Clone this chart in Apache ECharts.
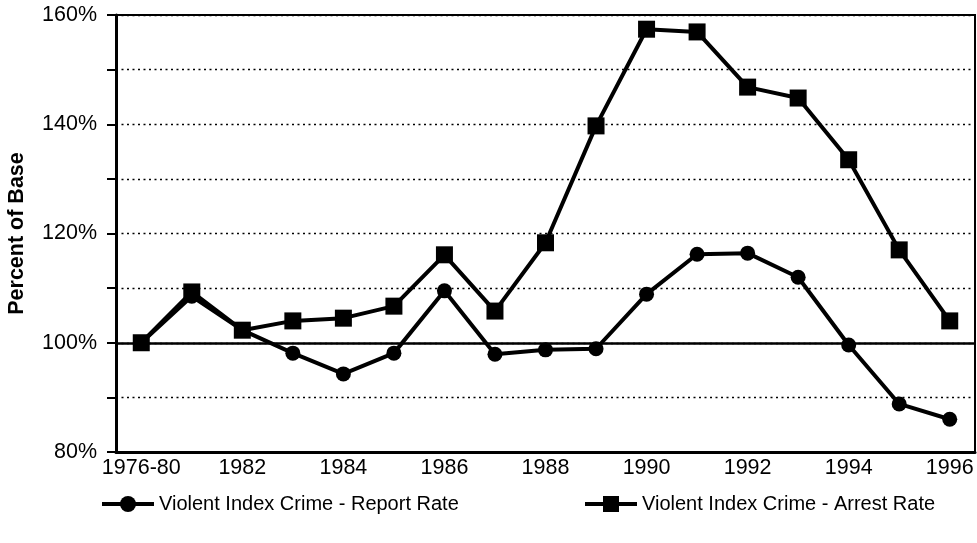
<!DOCTYPE html>
<html>
<head>
<meta charset="utf-8">
<script src="https://cdn.jsdelivr.net/npm/echarts@6/dist/echarts.min.js"></script>
<style>
  html, body { margin: 0; padding: 0; background: #fff; }
  #chart { width: 977px; height: 543px; }
</style>
</head>
<body>
<div id="chart"></div>
<script>
// categories along the x axis
const years = ['1976-80', '1981', '1982', '1983', '1984', '1985', '1986', '1987', '1988',
               '1989', '1990', '1991', '1992', '1993', '1994', '1995', '1996'];

// percent of base
const reportRate = [100, 108.5, 102.3, 98.1, 94.3, 98.1, 109.5, 97.9, 98.7,
                    98.9, 108.9, 116.2, 116.4, 112.0, 99.6, 88.8, 86.0];
const arrestRate = [100, 109.3, 102.3, 104.0, 104.5, 106.7, 116.1, 105.8, 118.3,
                    139.7, 157.4, 156.9, 146.8, 144.8, 133.5, 117.0, 104.0];

const yTicks = [80, 100, 120, 140, 160];

const font = 'Liberation Sans, Arial, sans-serif';

const chart = echarts.init(document.getElementById('chart'));

const legendText = { fontFamily: font, fontSize: 20, color: '#000' };

const chartOptions = {
    animation: false,
    grid: {
        left: 116, right: 2, top: 15, bottom: 91,
        outerBoundsMode: 'none',
        containLabel: false,
        show: true,
        borderColor: '#000',
        borderWidth: 2
    },
    legend: [
        {
            data: ['Violent Index Crime - Report Rate'],
            left: 95, top: 489,
            itemWidth: 52, itemHeight: 20, itemGap: 14,
            lineStyle: { width: 4 },
            textStyle: legendText
        },
        {
            data: ['Violent Index Crime - Arrest Rate'],
            left: 578, top: 489,
            itemWidth: 52, itemHeight: 20,
            lineStyle: { width: 4 },
            textStyle: legendText
        }
    ],
    xAxis: {
        type: 'category',
        data: years,
        boundaryGap: true,
        axisLine: { lineStyle: { color: '#000', width: 3 } },
        axisTick: { alignWithLabel: true, interval: 0, length: 9, lineStyle: { color: '#000', width: 2 } },
        axisLabel: {
            interval: 1,
            color: '#000',
            fontFamily: font,
            fontSize: 21.5,
            margin: 5
        },
        splitLine: { show: false }
    },
    yAxis: {
        type: 'value',
        min: 80,
        max: 160,
        interval: 10,
        name: 'Percent of Base',
        nameLocation: 'middle',
        nameGap: 88,
        nameTextStyle: { fontFamily: font, fontSize: 21.5, fontWeight: 'bold', color: '#000' },
        axisLine: { show: true, lineStyle: { color: '#000', width: 3 } },
        axisTick: { show: true, length: 9, lineStyle: { color: '#000', width: 2 } },
        axisLabel: {
            color: '#000',
            fontFamily: font,
            fontSize: 21.5,
            margin: 19,
            formatter: v => yTicks.includes(v) ? v + '%' : ''
        },
        splitLine: { show: true, lineStyle: { color: '#000', type: [2, 3.5], width: 1.3 } }
    },
    series: [
        {
            name: 'Violent Index Crime - Report Rate',
            type: 'line',
            data: reportRate,
            symbol: 'circle',
            symbolSize: 15,
            lineStyle: { color: '#000', width: 4 },
            itemStyle: { color: '#000' },
            z: 3,
            markLine: {
                silent: true,
                symbol: 'none',
                label: { show: false },
                lineStyle: { color: '#000', type: 'solid', width: 2.5 },
                data: [{ yAxis: 100 }]
            }
        },
        {
            name: 'Violent Index Crime - Arrest Rate',
            type: 'line',
            data: arrestRate,
            symbol: 'rect',
            symbolSize: 17,
            lineStyle: { color: '#000', width: 4 },
            itemStyle: { color: '#000' },
            z: 4
        }
    ]
};

chart.setOption(chartOptions);
</script>
</body>
</html>
